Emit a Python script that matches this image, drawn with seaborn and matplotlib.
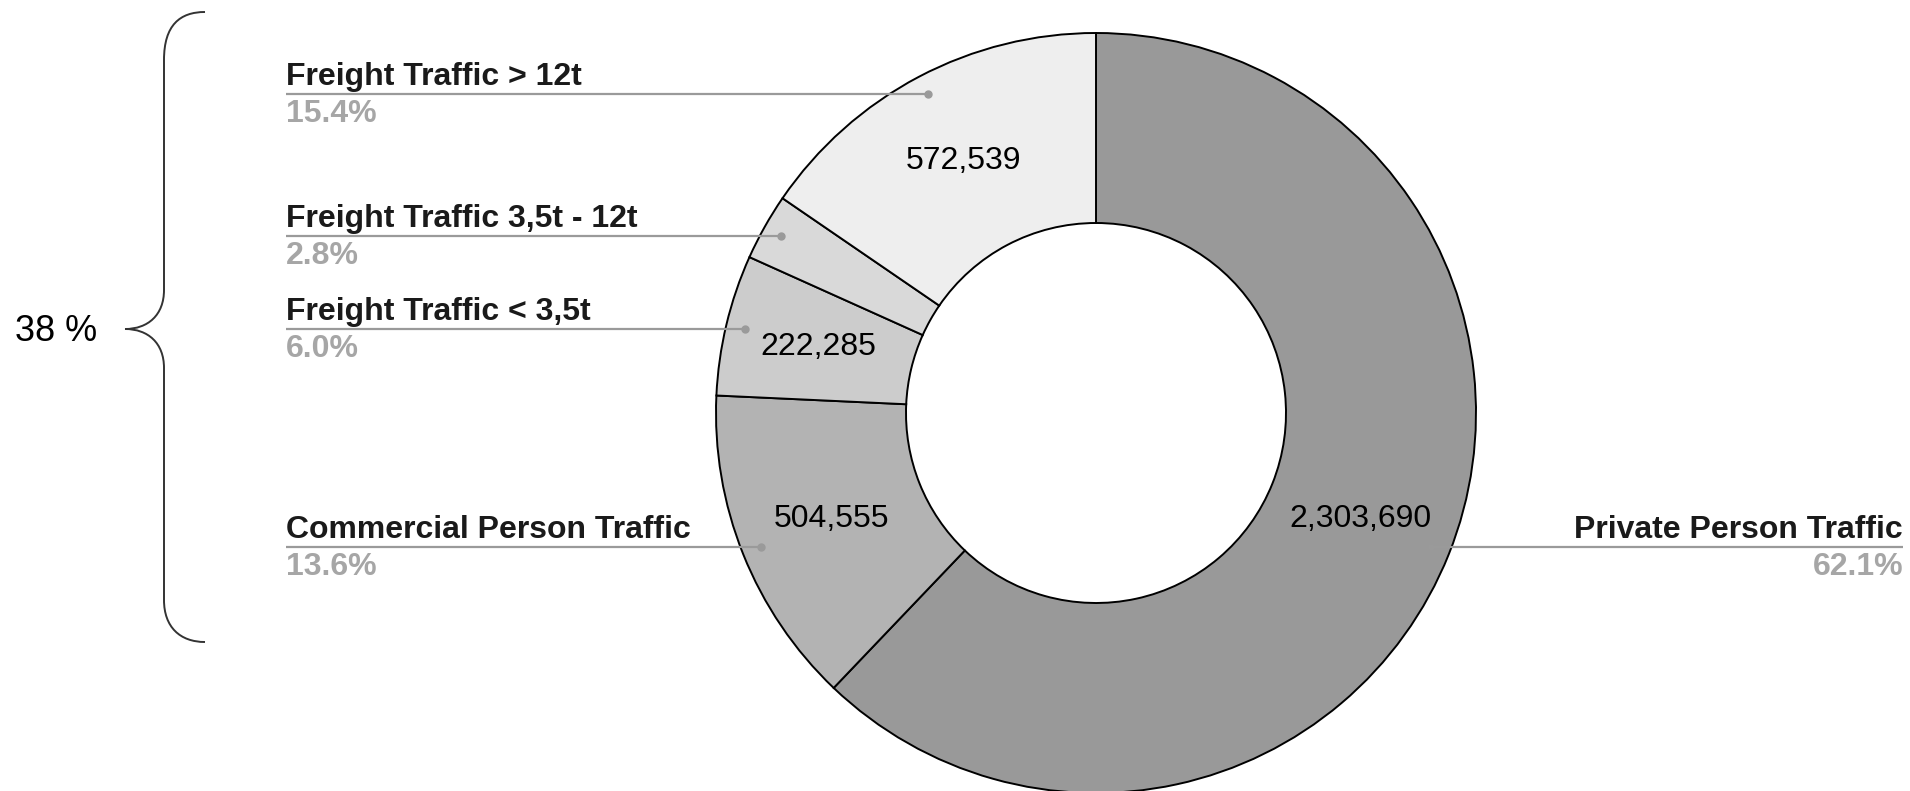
import numpy as np
import matplotlib
matplotlib.use("Agg")
import matplotlib.pyplot as plt
import seaborn as sns
from matplotlib.path import Path
from matplotlib.patches import PathPatch

# ---------------- data ----------------
categories = ["Private Person Traffic", "Commercial Person Traffic",
              "Freight Traffic < 3,5t", "Freight Traffic 3,5t - 12t",
              "Freight Traffic > 12t"]
values = [2303690, 504555, 222285, 105000, 572539]
value_labels = ["2,303,690", "504,555", "222,285", "", "572,539"]
percent_labels = ["62.1%", "13.6%", "6.0%", "2.8%", "15.4%"]
colors = ["#999999", "#b3b3b3", "#cccccc", "#d9d9d9", "#eeeeee"]
group_label = "38 %"

sns.set_theme(style="white")
plt.rcParams['font.family'] = ['Liberation Sans', 'DejaVu Sans']

W, H = 1910, 791
fig = plt.figure(figsize=(W / 100, H / 100), dpi=100)
fig.patch.set_facecolor("white")
ax = fig.add_axes([0, 0, 1, 1])

CX, CY, R = 1096, 413, 380  # pixel geometry of the donut


def px(x, y):
    return ((x - CX) / R, (CY - y) / R)


wedges, _ = ax.pie(values, colors=colors, startangle=90, counterclock=False,
                   radius=1,
                   wedgeprops=dict(width=0.5, edgecolor="black", linewidth=1.4))
ax.set_xlim(-CX / R, (W - CX) / R)
ax.set_ylim(-(H - CY) / R, CY / R)
ax.set_aspect("equal")
ax.axis("off")

title_color = "#1a1a1a"
pct_color = "#a6a6a6"
line_color = "#9a9a9a"
fs = 23

left_x = px(286, 0)[0]
right_x = px(1903, 0)[0]
title_off = 9 / R
pct_off = 28 / R

for i, w in enumerate(wedges):
    mid = np.deg2rad((w.theta1 + w.theta2) / 2)
    # value label inside ring
    if value_labels[i]:
        ax.text(0.75 * np.cos(mid), 0.75 * np.sin(mid), value_labels[i],
                ha="center", va="center", fontsize=fs, color="black")
    dx, dy = 0.95 * np.cos(mid), 0.95 * np.sin(mid)
    if dx > 0:
        lx, ha = right_x, "right"
    else:
        lx, ha = left_x, "left"
    ax.plot([dx, lx], [dy, dy], color=line_color, lw=1.6, solid_capstyle="butt", zorder=5)
    ax.plot([dx], [dy], "o", color=line_color, ms=5, zorder=6)
    ax.text(lx, dy + title_off, categories[i], ha=ha, va="baseline",
            fontsize=fs, fontweight="bold", color=title_color)
    ax.text(lx, dy - pct_off, percent_labels[i], ha=ha, va="baseline",
            fontsize=fs, fontweight="bold", color=pct_color)

# brace grouping the non-private categories
pts = [(205, 12), (180, 12), (164, 25), (164, 60),
       (164, 290),
       (164, 315), (148, 329), (125, 329),
       (148, 329), (164, 343), (164, 368),
       (164, 600),
       (164, 627), (180, 642), (205, 642)]
codes = [Path.MOVETO, Path.CURVE4, Path.CURVE4, Path.CURVE4,
         Path.LINETO,
         Path.CURVE4, Path.CURVE4, Path.CURVE4,
         Path.CURVE4, Path.CURVE4, Path.CURVE4,
         Path.LINETO,
         Path.CURVE4, Path.CURVE4, Path.CURVE4]
brace = Path([px(x, y) for x, y in pts], codes)
ax.add_patch(PathPatch(brace, facecolor="none", edgecolor="#333333", lw=1.4))
gx, gy = px(15, 332)
ax.text(gx, gy, group_label, ha="left", va="center", fontsize=26, color="black")

fig.savefig("out.png", dpi=100, facecolor="white")
